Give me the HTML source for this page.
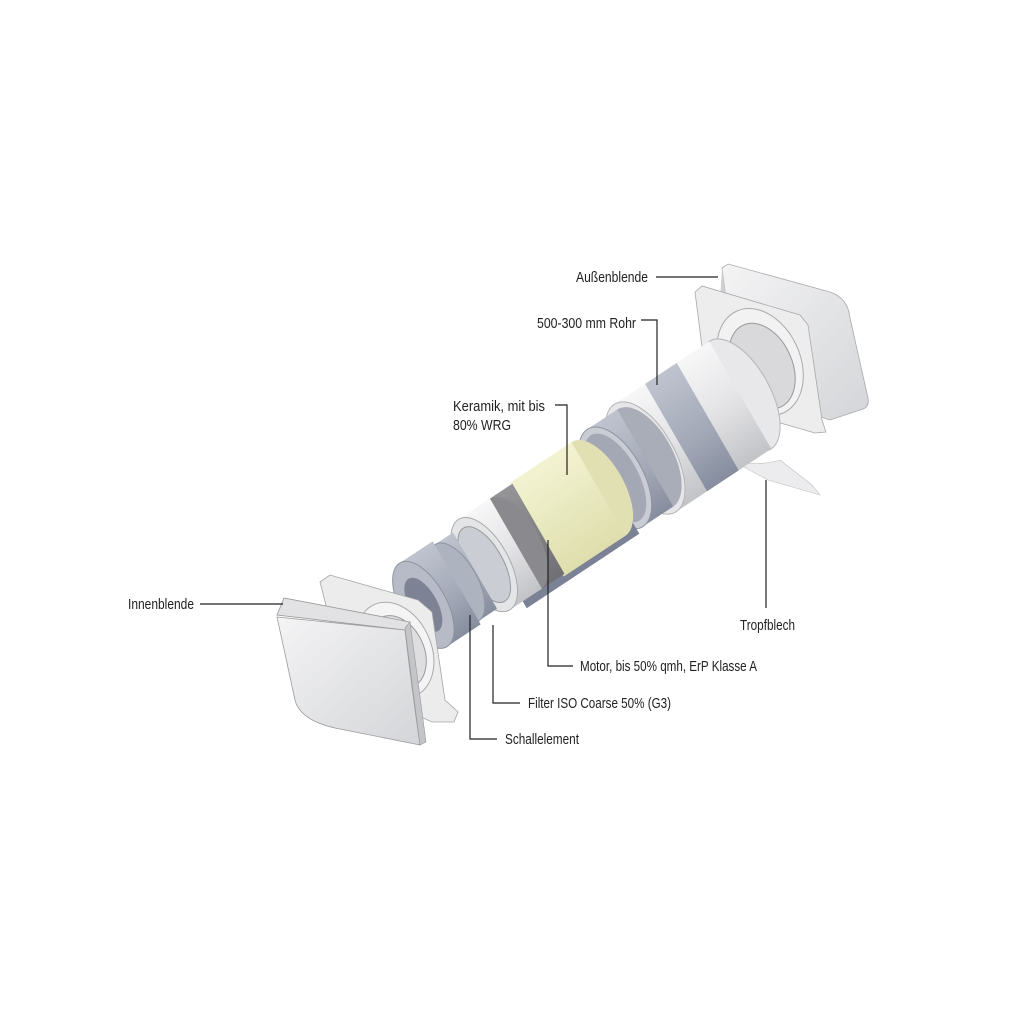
<!DOCTYPE html>
<html><head><meta charset="utf-8"><style>
html,body{margin:0;padding:0;background:#fff;}
svg{display:block}
text{font-family:"Liberation Sans",sans-serif;font-size:14.5px;fill:#222;}
</style></head><body>
<svg width="1024" height="1024" viewBox="0 0 1024 1024" xmlns="http://www.w3.org/2000/svg">
<defs>
<linearGradient id="wh" x1="0" y1="0" x2="0" y2="1"><stop offset="0" stop-color="#f7f7f8"/><stop offset="0.5" stop-color="#e4e4e6"/><stop offset="1" stop-color="#c2c3c7"/></linearGradient>
<linearGradient id="bl" x1="0" y1="0" x2="0" y2="1"><stop offset="0" stop-color="#bfc4cf"/><stop offset="0.6" stop-color="#a2a8b6"/><stop offset="1" stop-color="#868d9e"/></linearGradient>
<linearGradient id="dg" x1="0" y1="0" x2="0" y2="1"><stop offset="0" stop-color="#959598"/><stop offset="1" stop-color="#707074"/></linearGradient>
<linearGradient id="ye" x1="0" y1="0" x2="0" y2="1"><stop offset="0" stop-color="#f3f3d2"/><stop offset="1" stop-color="#dedead"/></linearGradient>
<linearGradient id="pn" x1="0" y1="0" x2="1" y2="1"><stop offset="0" stop-color="#f4f4f5"/><stop offset="1" stop-color="#d4d5d8"/></linearGradient>
</defs>

<path d="M722,268 L728,264 L830,292 Q848,298 850,318 L868,398 Q870,408 860,410 L830,420 L770,400 L730,330 Z" fill="url(#pn)" stroke="#aaa" stroke-width="0.8"/>
<path d="M722,268 L730,330 L770,400 L760,392 L720,300 Z" fill="#cfd0d3"/>
<path d="M695,292 L702,286 L800,315 L808,325 L822,420 L826,432 L815,433 L770,420 L728,400 L705,370 Z" fill="#ededee" stroke="#a8a8a8" stroke-width="0.8"/>
<ellipse cx="760" cy="362" rx="40" ry="56" transform="rotate(-25 760 362)" fill="#f2f2f3" stroke="#aaa"/>
<ellipse cx="762" cy="366" rx="30" ry="45" transform="rotate(-25 762 366)" fill="#d9d9dc" stroke="#999"/>

<path d="M716,452 Q745,470 780,460 L812,485 L820,495 L768,480 Z" fill="#ececee" stroke="#c0c0c0" stroke-width="0.6"/>

<g transform="matrix(0.834,-0.552,0.5,0.866,405,617)">
  <ellipse cx="402" cy="0" rx="30" ry="62" fill="#e8e8ea" stroke="#b5b5b8"/>
  <rect x="288" y="-62" width="114" height="124" fill="url(#wh)"/>
  <rect x="325" y="-62" width="38" height="124" fill="url(#bl)"/>
  <ellipse cx="288" cy="0" rx="30" ry="62" fill="#e6e6e8" stroke="#b5b5b8"/>
  <ellipse cx="288" cy="0" rx="25" ry="54" fill="#d2d3d7"/>
  <ellipse cx="288" cy="0" rx="28" ry="56" fill="#a9adb8"/>
  <rect x="252" y="-56" width="36" height="112" fill="url(#bl)"/>
  <ellipse cx="252" cy="0" rx="28" ry="56" fill="#c9ccd3" stroke="#8f94a0"/>
  <ellipse cx="252" cy="0" rx="23" ry="49" fill="#a3a8b4"/>
  <path d="M110,0 L110,60 L245,60 L245,0 Z" fill="#7b8295"/>
  <ellipse cx="232" cy="0" rx="26" ry="54" fill="#e0e0b2"/>
  <rect x="158" y="-54" width="74" height="108" fill="url(#ye)"/>
  <rect x="132" y="-52" width="28" height="104" fill="url(#dg)"/>
  <ellipse cx="132" cy="0" rx="25" ry="52" fill="#8a8a8e"/>
  <rect x="95" y="-52" width="38" height="104" fill="url(#wh)"/>
  <ellipse cx="95" cy="0" rx="25" ry="52" fill="#e4e5e7" stroke="#aaa"/>
  <ellipse cx="95" cy="0" rx="19" ry="42" fill="#cbcdd4" stroke="#999"/>
  <rect x="62" y="-44" width="22" height="88" fill="url(#bl)"/>
  <ellipse cx="62" cy="0" rx="21" ry="44" fill="#aeb3c0" stroke="#8d93a0"/>
  <rect x="22" y="-48" width="40" height="96" fill="url(#bl)"/>
  <ellipse cx="22" cy="0" rx="23" ry="48" fill="#b6bbc7" stroke="#8d93a0"/>
  <ellipse cx="22" cy="0" rx="14" ry="30" fill="#7d8395"/>
</g>

<path d="M320,582 L330,575 L418,600 L432,612 L445,700 L458,712 L454,722 L432,722 L395,705 L335,640 Z" fill="#ececed" stroke="#a5a5a5" stroke-width="0.8"/>
<ellipse cx="395" cy="650" rx="36" ry="50" transform="rotate(-25 395 650)" fill="#f4f4f5" stroke="#aaa"/>
<ellipse cx="397" cy="652" rx="27" ry="38" transform="rotate(-25 397 652)" fill="#dedee0" stroke="#999"/>

<path d="M277,615 L284,598 L410,622 L405,630 Z" fill="#e2e2e4" stroke="#999" stroke-width="0.8"/>
<path d="M405,628 L410,622 Q418,680 426,742 L420,745 Z" fill="#c4c5c9" stroke="#999" stroke-width="0.6"/>
<path d="M277,617 L405,630 Q412,690 420,745 L335,728 Q300,720 295,700 Z" fill="url(#pn)" stroke="#9c9c9c" stroke-width="0.8"/>

<g stroke="#222" stroke-width="1.2" fill="none">
<path d="M656,277 H718"/>
<path d="M641,320 H657 V385"/>
<path d="M555,405 H567 V475"/>
<path d="M200,604 H283"/>
<path d="M766,480 V608"/>
<path d="M548,540 V666 H573"/>
<path d="M493,625 V703 H520"/>
<path d="M470,615 V739 H497"/>
</g>

<text x="576" y="282" textLength="72" lengthAdjust="spacingAndGlyphs">Außenblende</text>
<text x="537" y="328" textLength="99" lengthAdjust="spacingAndGlyphs">500-300 mm Rohr</text>
<text x="453" y="411" textLength="92" lengthAdjust="spacingAndGlyphs">Keramik, mit bis</text>
<text x="453" y="430" textLength="58" lengthAdjust="spacingAndGlyphs">80% WRG</text>
<text x="128" y="609" textLength="66" lengthAdjust="spacingAndGlyphs">Innenblende</text>
<text x="740" y="630" textLength="55" lengthAdjust="spacingAndGlyphs">Tropfblech</text>
<text x="580" y="671" textLength="177" lengthAdjust="spacingAndGlyphs">Motor, bis 50% qmh, ErP Klasse A</text>
<text x="528" y="708" textLength="143" lengthAdjust="spacingAndGlyphs">Filter ISO Coarse 50% (G3)</text>
<text x="505" y="744" textLength="74" lengthAdjust="spacingAndGlyphs">Schallelement</text>
</svg>
</body></html>
